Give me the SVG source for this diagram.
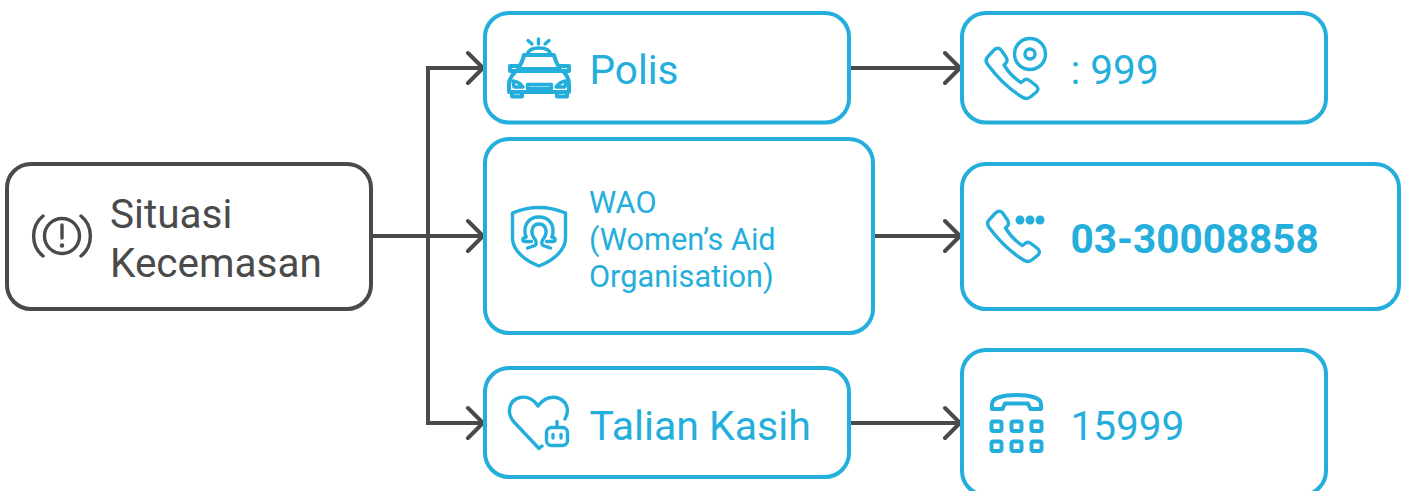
<svg xmlns="http://www.w3.org/2000/svg" width="1406" height="491" viewBox="0 0 1406 491">
<defs>
<path id="phone" d="M988 65C985.500 62 985.500 59 988 56.500L993.500 50.500C996 47.500 999.500 47.500 1001.500 50.500L1006 57C1007.500 59.500 1007.500 61.500 1005.500 63.500L1004 65C1008 71.500 1014.500 78.500 1021 82.500L1023 81C1025 79 1027.500 79 1029.500 80.500L1036 85.500C1038.500 87.500 1038.500 90 1036.500 92L1031 96.500C1028 99 1025 99 1022 97C1009 89 997 77 988 65Z"/>
</defs>
<style>
.box{fill:#fff;stroke:#24aedb;stroke-width:4}
.dark{fill:#fff;stroke:#4a4a4a;stroke-width:4}
.t{font-family:Roboto,"Liberation Sans",sans-serif;fill:#24aedb;font-size:40.500px}
.s{font-size:30.700px}
.td{font-family:Roboto,"Liberation Sans",sans-serif;fill:#4a4a4a;font-size:40.500px}
.ic{fill:none;stroke:#24aedb;stroke-width:3.400;stroke-linecap:round;stroke-linejoin:round}
.th{stroke-width:4}
.icd{fill:none;stroke:#4a4a4a;stroke-width:3.400;stroke-linecap:round;stroke-linejoin:round}
.con{fill:none;stroke:#4a4a4a;stroke-width:4}
.head{fill:none;stroke:#4a4a4a;stroke-width:4;stroke-linecap:round;stroke-linejoin:round}
</style>
<g id="connectors">
<path class="con" d="M371 236H482M428 236V68M428 236V423M426 68H482M426 423H482M849 68H960M873 236H960M849 423H960"/>
<path class="head" d="M468 53L483 68L468 83M468 221L483 236L468 251M468 408L483 423L468 438M945 53L960 68L945 83M945 221L960 236L945 251M945 408L960 423L945 438"/>
</g>
<g id="node-situasi">
<rect class="dark" x="7" y="164" width="364" height="145" rx="24"/>
<circle class="icd" cx="62" cy="236" r="17.500"/>
<path class="icd" d="M43 216C30.500 226 30.500 246 43 256M81 216C93.500 226 93.500 246 81 256"/>
<path class="icd" d="M62 225V238"/>
<circle cx="62" cy="245.500" r="2.200" fill="#4a4a4a"/>
<text class="td" x="110" y="228">Situasi</text>
<text class="td" x="110" y="277">Kecemasan</text>
</g>
<g id="node-polis">
<rect class="box" x="485" y="13" width="364" height="109.500" rx="24"/>
<path class="ic" d="M528 40.500L532 44M538.500 39V44M549 40.500L545 44"/>
<path class="ic" d="M527 55C528 50 533 48 539 48C545 48 550 50 551 55Z"/>
<path class="ic th" d="M524 55H554C555 60 557 64 560 69H518C521 64 523 60 524 55Z"/>
<path class="ic th" d="M518 66H510V71H515M560 66H569V71H564"/>
<path class="ic th" d="M516 71H563C567 75 569 79 569 84V92H509V84C509 79 512 75 516 71Z"/>
<path class="ic th" d="M512 92V96.500H522V92M557 92V96.500H567V92"/>
<path class="ic" stroke-width="2.500" d="M527.500 84.500H551.500V88.500H527.500ZM513 81C517 81.500 520 83 523 87H514Z M566 81C562 81.500 559 83 556 87H565Z"/>
<text class="t" x="589.500" y="84">Polis</text>
</g>
<g id="node-wao">
<rect class="box" x="485" y="139" width="388" height="194" rx="24"/>
<path class="ic" d="M512.500 213C522 209 530 207.500 539 207.500C548 207.500 556 209 565.500 213V238C565.500 251 552 261 539 266C526 261 512.500 251 512.500 238Z"/>
<path class="ic" d="M526 237C522 224 530 217 539 217C548 217 556 224 552 237"/>
<path class="ic" d="M527.500 248L535 245.500C537 244 536.500 240.500 534 238C530 232 532 224 539 224C546 224 548 232 544 238C541.500 240.500 541 244 543 245.500L550.500 248"/>
<path class="ic" d="M526 237C522 238 522 241 525 241.500H531.500M552 237C556 238 556 241 553 241.500H546.500"/>
<text class="t s" x="589" y="213">WAO</text>
<text class="t s" x="589" y="250">(Women’s Aid</text>
<text class="t s" x="589" y="287">Organisation)</text>
</g>
<g id="node-talian">
<rect class="box" x="485" y="368" width="364" height="109" rx="24"/>
<path class="ic" d="M542 446L539 448.500L514 422C506 413 509 400 520 397.500C528 396 534 400 538 406C543 399.500 549 396.500 556 397.500C567 400 570 410 565 419"/>
<rect class="ic" x="546.500" y="427.500" width="21" height="18" rx="5"/>
<path class="ic" d="M557 427V421.500"/>
<path class="ic" d="M553 434.500V438M561 434.500V438"/>
<text class="t" x="589.500" y="440" style="font-size:41px">Talian Kasih</text>
</g>
<g id="node-999">
<rect class="box" x="962" y="13" width="364" height="109.500" rx="24"/>
<use href="#phone" class="ic"/>
<circle class="ic" cx="1030" cy="54" r="15.500"/>
<circle class="ic" cx="1030" cy="54" r="5"/>
<text class="t" x="1070.500" y="84">: 999</text>
</g>
<g id="node-03">
<rect class="box" x="962" y="164" width="437" height="145" rx="24"/>
<use href="#phone" class="ic" transform="translate(1.500 163)"/>
<circle cx="1020" cy="220" r="4.500" fill="#24aedb"/>
<circle cx="1030" cy="220" r="4.500" fill="#24aedb"/>
<circle cx="1040" cy="220" r="4.500" fill="#24aedb"/>
<text class="t" x="1070.500" y="253" font-weight="700">03-30008858</text>
</g>
<g id="node-15999">
<rect class="box" x="962" y="350" width="364" height="145" rx="24"/>
<path class="ic th" d="M992 409V404C992 398 1003 395 1016.500 395C1030 395 1041 398 1041 404V409H1030.500L1028 403.500H1005L1002.500 409Z"/>
<g class="ic th">
<rect x="991.500" y="421.500" width="10" height="9.500" rx="2"/><rect x="1011.500" y="421.500" width="10" height="9.500" rx="2"/><rect x="1031.500" y="421.500" width="10" height="9.500" rx="2"/>
<rect x="991.500" y="441.500" width="10" height="9.500" rx="2"/><rect x="1011.500" y="441.500" width="10" height="9.500" rx="2"/><rect x="1031.500" y="441.500" width="10" height="9.500" rx="2"/>
</g>
<text class="t" x="1070.500" y="440">15999</text>
</g>
</svg>
